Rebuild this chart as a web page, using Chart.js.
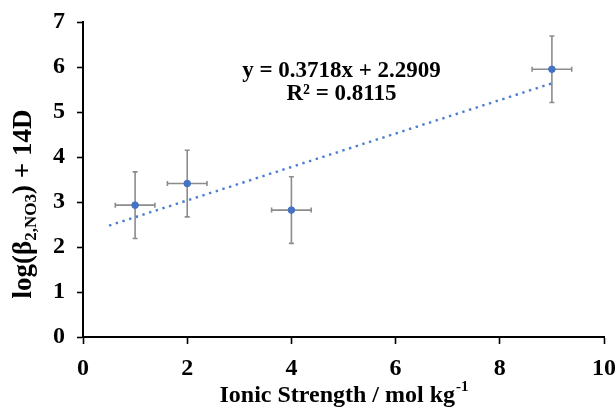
<!DOCTYPE html>
<html>
<head>
<meta charset="utf-8">
<script src="https://cdn.jsdelivr.net/npm/chart.js@4"></script>
<style>
  html, body { margin: 0; padding: 0; background: #fff; }
  #wrap { width: 615px; height: 407px; }
</style>
</head>
<body>
<div id="wrap"><canvas id="chart"></canvas></div>
<script>
// measured points (ionic strength vs log beta) with their uncertainties
const ionicStrength = [1, 2, 4, 9];
const logBeta = [2.93, 3.41, 2.82, 5.95];
const xErr = [0.38, 0.38, 0.38, 0.38];
const yErr = [0.74, 0.74, 0.74, 0.74];

// linear trendline, as reported
const fitSlope = 0.3718;
const fitIntercept = 2.2909;
const fitR2 = 0.8115;
const fitRange = [0.5, 9];

const xTicks = [0, 2, 4, 6, 8, 10];
const yTicks = [0, 1, 2, 3, 4, 5, 6, 7];

const serif = "'Liberation Serif', 'Times New Roman', serif";
const blue = "#4472C4";

const points = ionicStrength.map((x, i) => ({ x: x, y: logBeta[i] }));
const fitLine = fitRange.map((x) => ({ x: x, y: fitSlope * x + fitIntercept }));

// error bars in both directions, drawn through the chart scales
const errorBars = {
  id: "errorBars",
  beforeDatasetsDraw(chart) {
    const { ctx, scales } = chart;
    const xs = scales.x, ys = scales.y;
    ctx.save();
    ctx.strokeStyle = "#8c8c8c";
    ctx.lineWidth = 1.6;
    const cap = 2.5;
    points.forEach((p, i) => {
      const px = xs.getPixelForValue(p.x);
      const py = ys.getPixelForValue(p.y);
      const top = ys.getPixelForValue(p.y + yErr[i]);
      const bot = ys.getPixelForValue(p.y - yErr[i]);
      const left = xs.getPixelForValue(p.x - xErr[i]);
      const right = xs.getPixelForValue(p.x + xErr[i]);
      ctx.beginPath();
      ctx.moveTo(px, top); ctx.lineTo(px, bot);
      ctx.moveTo(px - cap, top); ctx.lineTo(px + cap, top);
      ctx.moveTo(px - cap, bot); ctx.lineTo(px + cap, bot);
      ctx.moveTo(left, py); ctx.lineTo(right, py);
      ctx.moveTo(left, py - cap); ctx.lineTo(left, py + cap);
      ctx.moveTo(right, py - cap); ctx.lineTo(right, py + cap);
      ctx.stroke();
    });
    ctx.restore();
  }
};

// axis titles (with subscripts) and the trendline equation
const labels = {
  id: "labels",
  afterDraw(chart) {
    const { ctx, chartArea } = chart;
    ctx.save();
    ctx.fillStyle = "#000";
    ctx.textBaseline = "alphabetic";

    // equation
    const cx = (chartArea.left + chartArea.right) / 2;
    ctx.font = "bold 23px " + serif;
    ctx.textAlign = "center";
    ctx.fillText("y = " + fitSlope + "x + " + fitIntercept, cx - 2, 77);
    ctx.fillText("R² = " + fitR2, cx - 2, 100);

    // x title
    ctx.font = "bold 24px " + serif;
    const main = "Ionic Strength / mol kg";
    const sup = "-1";
    ctx.textAlign = "left";
    const wMain = ctx.measureText(main).width;
    ctx.font = "bold 15px " + serif;
    const wSup = ctx.measureText(sup).width;
    let tx = cx - (wMain + wSup) / 2;
    ctx.font = "bold 24px " + serif;
    ctx.fillText(main, tx, 402);
    ctx.font = "bold 15px " + serif;
    ctx.fillText(sup, tx + wMain + 1, 391);

    // y title, rotated
    const parts = [
      { t: "log(β", size: 27, dy: 0 },
      { t: "2,NO3", size: 17, dy: 5 },
      { t: ") + 14D", size: 27, dy: 0 }
    ];
    let total = 0;
    parts.forEach((p) => {
      ctx.font = "bold " + p.size + "px " + serif;
      p.w = ctx.measureText(p.t).width;
      total += p.w;
    });
    ctx.translate(31, 204);
    ctx.rotate(-Math.PI / 2);
    let ox = -total / 2;
    parts.forEach((p) => {
      ctx.font = "bold " + p.size + "px " + serif;
      ctx.fillText(p.t, ox, p.dy);
      ox += p.w;
    });
    ctx.restore();
  }
};

function fixScale(size) {
  return (scale) => {
    if (scale.isHorizontal()) scale.height = size; else scale.width = size;
    scale.paddingLeft = 0; scale.paddingRight = 0;
    scale.paddingTop = 0; scale.paddingBottom = 0;
  };
}

new Chart(document.getElementById("chart"), {
  type: "scatter",
  data: {
    datasets: [
      {
        label: "trend",
        data: fitLine,
        showLine: true,
        borderColor: "#4a7fd0",
        borderWidth: 2.4,
        borderDash: [2.4, 4.6],
        pointRadius: 0,
        fill: false,
        order: 2
      },
      {
        label: "data",
        data: points,
        backgroundColor: blue,
        borderColor: blue,
        pointRadius: 3.3,
        order: 1
      }
    ]
  },
  options: {
    responsive: true,
    maintainAspectRatio: false,
    animation: false,
    layout: { padding: { left: 0, right: 11, top: 22, bottom: 0 } },
    plugins: { legend: { display: false }, tooltip: { enabled: false } },
    scales: {
      x: {
        type: "linear",
        min: 0, max: 10,
        afterBuildTicks: (s) => { s.ticks = xTicks.map((v) => ({ value: v })); },
        afterFit: fixScale(70),
        border: { color: "#000", width: 2 },
        grid: { drawOnChartArea: false, color: "#000", tickLength: 7, tickWidth: 1.6 },
        ticks: { color: "#000", padding: 10, font: { family: serif, size: 24, weight: "bold" } }
      },
      y: {
        type: "linear",
        min: 0, max: 7,
        afterBuildTicks: (s) => { s.ticks = yTicks.map((v) => ({ value: v })); },
        afterFit: fixScale(83),
        border: { color: "#000", width: 2 },
        grid: { drawOnChartArea: false, color: "#000", tickLength: 6, tickWidth: 1.6 },
        ticks: { color: "#000", padding: 12, font: { family: serif, size: 24, weight: "bold" } }
      }
    }
  },
  plugins: [errorBars, labels]
});
</script>
</body>
</html>
